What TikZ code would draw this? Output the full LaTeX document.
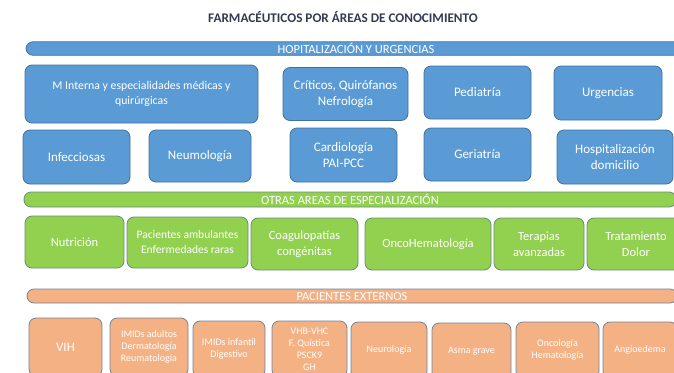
\documentclass[tikz,border=0pt]{standalone}
\usepackage{fontspec}
\setmainfont{Carlito}
\usetikzlibrary{positioning}
\definecolor{hospblue}{RGB}{91,155,213}
\definecolor{hospline}{RGB}{65,113,156}
\definecolor{espgreen}{RGB}{146,208,80}
\definecolor{espline}{RGB}{104,140,118}
\definecolor{extorange}{RGB}{244,177,131}
\definecolor{extline}{RGB}{112,132,160}
\definecolor{titlegray}{RGB}{52,58,82}

\begin{document}
\begin{tikzpicture}[x = 1pt, y = -1pt,
    area/.style = {draw, line width = 0.8pt, rounded corners = 7pt, text = white,
        align = center, inner sep = 0pt},
    bar/.style = {area, rounded corners = 2.5pt, font = \fontsize{12.5}{13}\selectfont},
    hosp/.style = {area, fill = hospblue, draw = hospline, font = \fontsize{13}{15.5}\selectfont},
    esp/.style = {area, fill = espgreen, draw = espline, font = \fontsize{12.5}{15.5}\selectfont},
    ext/.style = {area, fill = extorange, draw = extline, font = \fontsize{10}{12}\selectfont}]
        \useasboundingbox (0, 0) rectangle (674, 372);
        \clip (0, 0) rectangle (674, 372);

        \node [text = titlegray, font = \bfseries\fontsize{13.2}{14}\selectfont] (titulo) at (343, 17)
            {FARMACÉUTICOS POR ÁREAS DE CONOCIMIENTO};

        % hospitalizacion y urgencias
        \node [bar, hosp, minimum width = 660, minimum height = 13.5, font = \fontsize{12.5}{13}\selectfont]
            (hospbar) at (356, 48.5) {HOPITALIZACIÓN Y URGENCIAS};

        \node [hosp, minimum width = 233, minimum height = 58, font = \fontsize{11.8}{15}\selectfont]
            (minterna) at (141.5, 94) {M Interna y especialidades médicas y\\ quirúrgicas};
        \node [hosp, minimum width = 125, minimum height = 53] (criticos) at (345.5, 94)
            {Críticos, Quirófanos\\ Nefrología};
        \node [hosp, minimum width = 107, minimum height = 53] (pediatria) at (477.5, 92.5) {Pediatría};
        \node [hosp, minimum width = 108, minimum height = 54] (urgencias) at (608, 93) {Urgencias};

        \node [hosp, minimum width = 107, minimum height = 54] (infecciosas) at (76.5, 157) {Infecciosas};
        \node [hosp, minimum width = 102, minimum height = 52] (neumologia) at (200, 156) {Neumología};
        \node [hosp, minimum width = 107, minimum height = 54] (cardiologia) at (343.5, 155)
            {Cardiología\\ PAI-PCC};
        \node [hosp, minimum width = 107, minimum height = 53] (geriatria) at (477.5, 154.5) {Geriatría};
        \node [hosp, minimum width = 116, minimum height = 54] (hospdomicilio) at (615, 157)
            {Hospitalización\\ domicilio};

        % otras areas
        \node [bar, esp, minimum width = 652, minimum height = 15, font = \fontsize{12.5}{13}\selectfont]
            (espbar) at (350, 199.5) {OTRAS AREAS DE ESPECIALIZACIÓN};

        \node [esp, minimum width = 99, minimum height = 52] (nutricion) at (74.5, 242) {Nutrición};
        \node [esp, minimum width = 121, minimum height = 51, font = \fontsize{11.5}{15}\selectfont]
            (ambulantes) at (187.5, 242.5) {Pacientes ambulantes\\ Enfermedades raras};
        \node [esp, minimum width = 107, minimum height = 52] (coagulopatias) at (304.5, 244)
            {Coagulopatías\\ congénitas};
        \node [esp, minimum width = 126, minimum height = 52] (oncohemato) at (428, 244) {OncoHematología};
        \node [esp, minimum width = 90, minimum height = 52] (terapias) at (539, 244)
            {Terapias\\ avanzadas};
        \node [esp, minimum width = 98, minimum height = 52] (dolor) at (636, 244)
            {Tratamiento\\ Dolor};

        % pacientes externos
        \node [bar, ext, minimum width = 650, minimum height = 14, font = \fontsize{12.5}{13}\selectfont]
            (extbar) at (352, 296) {PACIENTES EXTERNOS};

        \node [ext, minimum width = 73, minimum height = 58, font = \fontsize{13}{15}\selectfont]
            (vih) at (65.5, 347) {VIH};
        \node [ext, minimum width = 78, minimum height = 58] (imidsadultos) at (149, 347)
            {IMIDs adultos\\ Dermatología\\ Reumatología};
        \node [ext, minimum width = 72, minimum height = 56] (imidsinfantil) at (229, 349)
            {IMIDs infantil\\ Digestivo};
        \node [ext, minimum width = 75, minimum height = 56] (vhb) at (309.5, 349)
            {VHB-VHC\\ F. Quística\\ PSCK9\\ GH};
        \node [ext, minimum width = 76, minimum height = 56] (neurologia) at (389, 350) {Neurología};
        \node [ext, minimum width = 79, minimum height = 56] (asma) at (471.5, 351) {Asma grave};
        \node [ext, minimum width = 83, minimum height = 56] (oncologia) at (557.5, 350)
            {Oncología\\ Hematología};
        \node [ext, minimum width = 74, minimum height = 56] (angioedema) at (640, 350) {Angioedema};
    \end{tikzpicture}
\end{document}
